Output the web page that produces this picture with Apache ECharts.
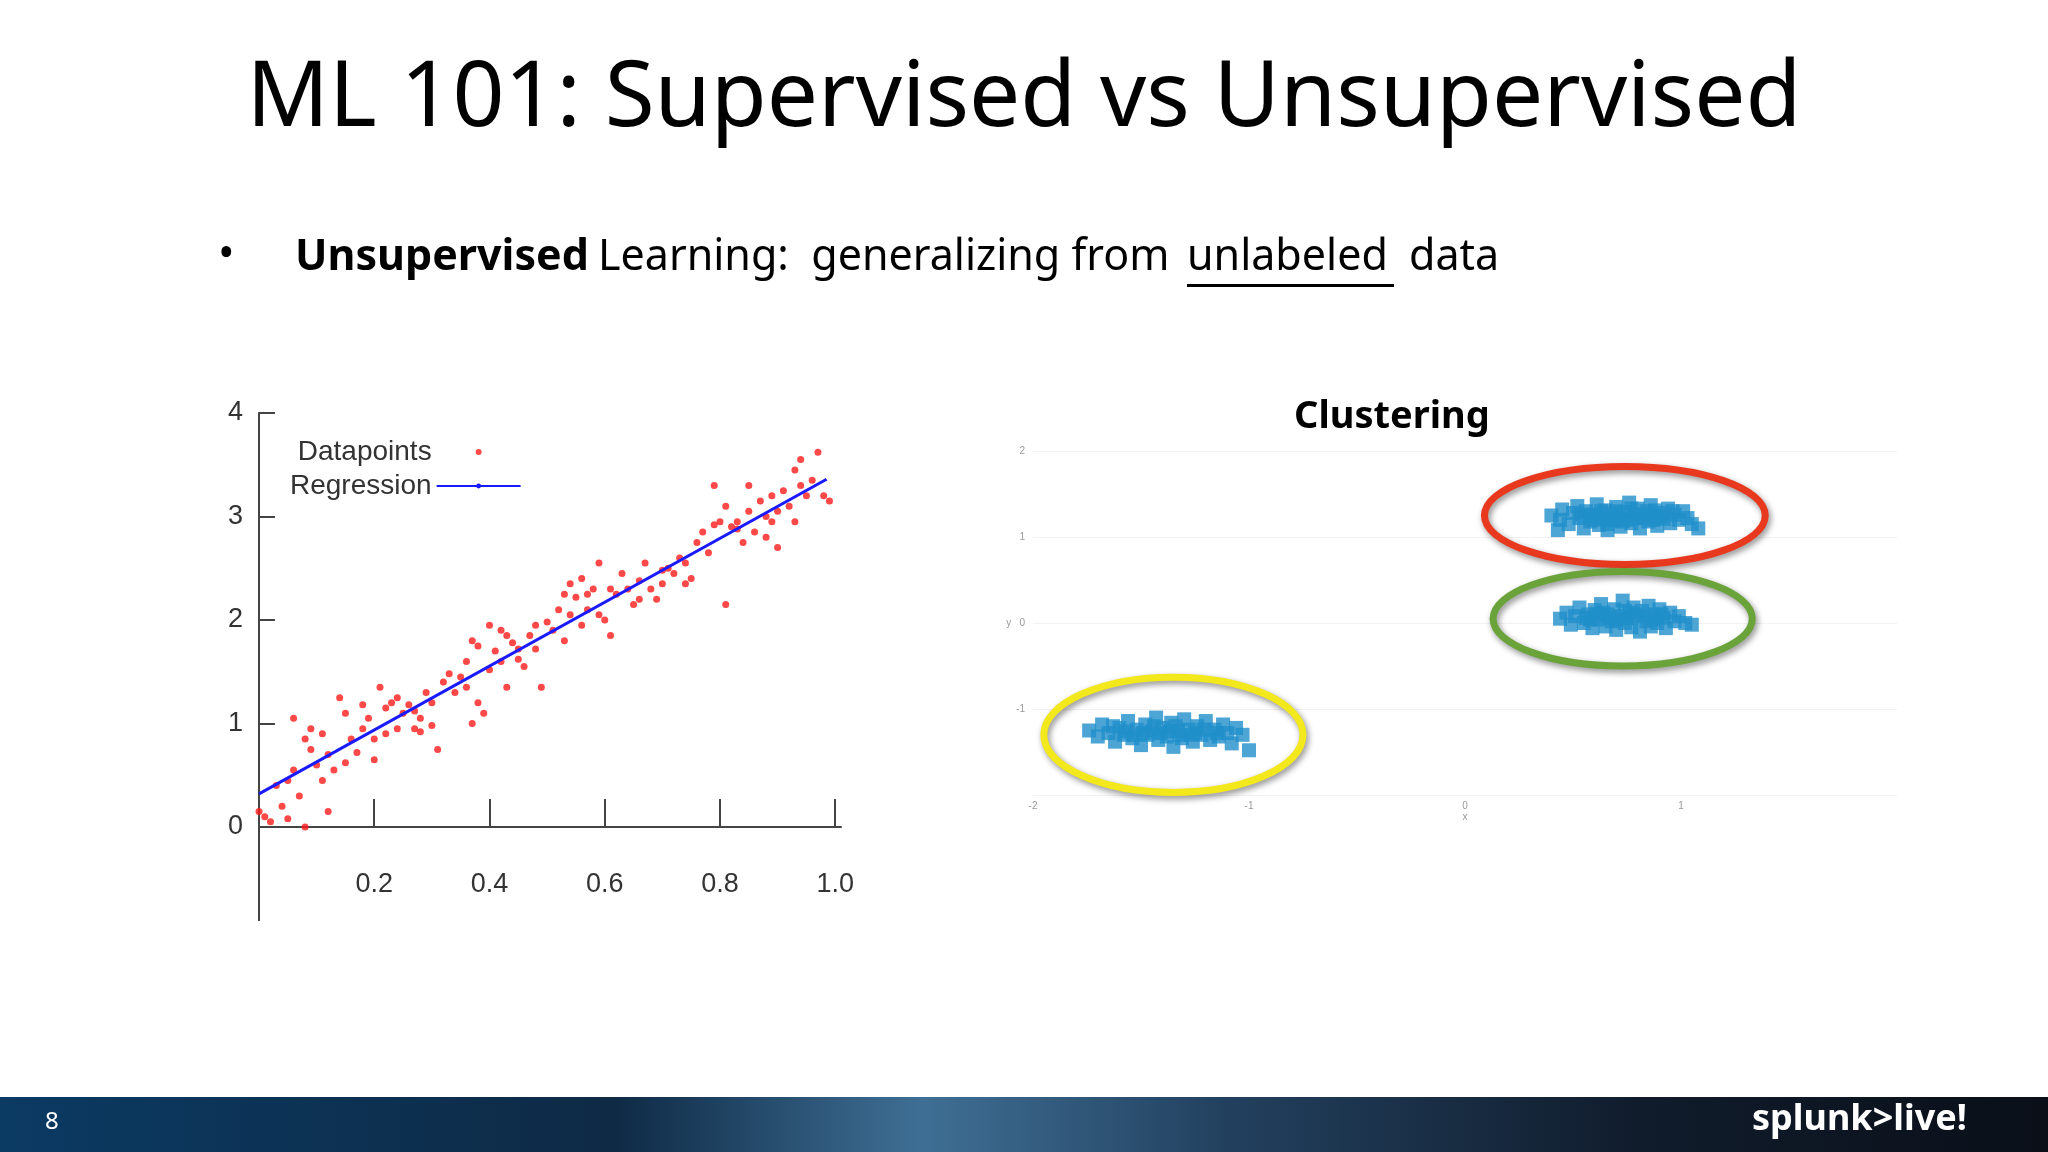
<!DOCTYPE html>
<html>
<head>
<meta charset="utf-8">
<script src="https://cdn.jsdelivr.net/npm/echarts@6/dist/echarts.min.js"></script>
<style>
html, body { margin: 0; padding: 0; background: #ffffff; }
#main { width: 2048px; height: 1152px; }
</style>
</head>
<body>
<div id="main"></div>
<script>
// regression panel
var regPoints = [
  [0.00,0.15],[0.01,0.10],[0.03,0.40],[0.04,0.20],[0.05,0.08],[0.06,0.55],[0.06,1.05],[0.07,0.30],[0.08,0.00],[0.09,0.75],
  [0.09,0.95],[0.10,0.60],[0.11,0.45],[0.12,0.15],[0.12,0.70],[0.13,0.55],[0.14,1.25],[0.15,1.10],[0.16,0.85],[0.17,0.72],
  [0.18,0.95],[0.19,1.05],[0.20,0.65],[0.20,0.85],[0.21,1.35],[0.22,0.90],[0.22,1.15],[0.23,1.20],[0.24,0.95],[0.25,1.10],
  [0.26,1.18],[0.27,0.95],[0.28,0.92],[0.28,1.05],[0.29,1.30],[0.30,0.98],[0.30,1.20],[0.31,0.75],[0.32,1.40],[0.33,1.48],
  [0.34,1.30],[0.36,1.60],[0.36,1.35],[0.37,1.80],[0.38,1.20],[0.38,1.75],[0.39,1.10],[0.40,1.95],[0.40,1.52],[0.41,1.70],
  [0.42,1.60],[0.43,1.35],[0.43,1.85],[0.44,1.78],[0.45,1.62],[0.46,1.55],[0.47,1.85],[0.48,1.72],[0.48,1.95],[0.49,1.35],
  [0.50,1.98],[0.51,1.90],[0.52,2.10],[0.53,1.80],[0.54,2.05],[0.54,2.35],[0.55,2.22],[0.56,2.40],[0.56,1.95],[0.57,2.25],
  [0.58,2.30],[0.59,2.55],[0.59,2.05],[0.60,2.00],[0.61,1.85],[0.62,2.25],[0.63,2.45],[0.64,2.30],[0.65,2.15],[0.66,2.38],
  [0.67,2.55],[0.68,2.30],[0.69,2.20],[0.70,2.35],[0.71,2.50],[0.72,2.45],[0.73,2.60],[0.74,2.55],[0.75,2.40],[0.76,2.75],
  [0.77,2.85],[0.78,2.65],[0.79,2.92],[0.80,2.95],[0.81,2.15],[0.81,3.10],[0.82,2.90],[0.83,2.88],[0.84,2.75],[0.85,3.05],
  [0.86,2.85],[0.87,3.15],[0.88,3.00],[0.88,2.80],[0.89,3.20],[0.90,2.70],[0.90,3.05],[0.91,3.25],[0.92,3.10],[0.93,2.95],
  [0.94,3.30],[0.94,3.55],[0.95,3.20],[0.96,3.35],[0.97,3.62],[0.98,3.20],[0.99,3.15],[0.93,3.45],[0.85,3.30],[0.79,3.30],
  [0.02,0.05],[0.05,0.45],[0.08,0.85],[0.11,0.90],[0.15,0.62],[0.18,1.18],[0.24,1.25],[0.27,1.12],[0.35,1.45],[0.37,1.00],
  [0.42,1.90],[0.45,1.72],[0.53,2.25],[0.57,2.10],[0.61,2.30],[0.66,2.20],[0.70,2.48],[0.74,2.35],[0.83,2.95],[0.89,2.95]
];
var regLine = [[0.00,0.32],[0.985,3.36]];
var yTicks = [0,1,2,3,4];
var xTicks = [0.2,0.4,0.6,0.8,1.0];

// clustering panel
var clusterRed = [
  [0.40,1.25],[0.44,1.20],[0.45,1.32],[0.48,1.15],[0.50,1.28],[0.52,1.36],[0.53,1.22],[0.55,1.10],[0.56,1.30],[0.58,1.18],
  [0.60,1.26],[0.61,1.38],[0.62,1.14],[0.64,1.22],[0.65,1.31],[0.66,1.08],[0.68,1.27],[0.69,1.19],[0.70,1.35],[0.71,1.24],
  [0.72,1.12],[0.74,1.29],[0.75,1.20],[0.76,1.40],[0.77,1.16],[0.78,1.26],[0.80,1.33],[0.81,1.10],[0.82,1.22],[0.84,1.30],
  [0.85,1.18],[0.86,1.37],[0.88,1.25],[0.89,1.13],[0.91,1.28],[0.92,1.21],[0.94,1.33],[0.95,1.16],[0.97,1.26],[0.99,1.20],
  [1.01,1.30],[1.03,1.22],[1.05,1.15],[1.08,1.10],[0.43,1.08],[0.58,1.24],[0.63,1.30],[0.67,1.20],[0.73,1.18],[0.79,1.22],
  [0.83,1.26],[0.87,1.20],[0.90,1.24],[0.70,1.30],[0.60,1.20],[0.96,1.30],[0.54,1.26],[0.77,1.33],[0.66,1.15],[0.88,1.31]
];
var clusterGreen = [
  [0.44,0.05],[0.47,0.12],[0.49,-0.02],[0.51,0.08],[0.53,0.18],[0.55,0.00],[0.57,0.10],[0.59,-0.06],[0.60,0.15],[0.62,0.04],
  [0.63,0.22],[0.65,-0.04],[0.66,0.10],[0.68,0.02],[0.69,0.16],[0.70,-0.08],[0.72,0.08],[0.73,0.26],[0.74,0.00],[0.76,0.12],
  [0.77,-0.05],[0.78,0.18],[0.80,0.06],[0.81,-0.10],[0.82,0.14],[0.84,0.02],[0.85,0.20],[0.86,-0.04],[0.88,0.10],[0.89,0.00],
  [0.90,0.16],[0.92,0.06],[0.93,-0.06],[0.95,0.12],[0.97,0.02],[0.99,0.08],[1.02,0.00],[1.05,-0.02],[0.58,0.04],[0.64,0.12],
  [0.71,0.04],[0.75,0.06],[0.79,0.10],[0.83,0.08],[0.87,0.04],[0.67,0.06],[0.61,0.10],[0.91,0.10],[0.56,0.06],[0.74,0.14]
];
var clusterYellow = [
  [-1.74,-1.25],[-1.70,-1.32],[-1.68,-1.18],[-1.65,-1.28],[-1.62,-1.38],[-1.60,-1.22],[-1.58,-1.30],[-1.56,-1.14],[-1.54,-1.34],[-1.52,-1.24],
  [-1.50,-1.42],[-1.48,-1.18],[-1.47,-1.30],[-1.45,-1.26],[-1.43,-1.10],[-1.42,-1.36],[-1.40,-1.22],[-1.38,-1.32],[-1.36,-1.16],[-1.35,-1.44],
  [-1.33,-1.26],[-1.31,-1.34],[-1.30,-1.12],[-1.28,-1.24],[-1.26,-1.38],[-1.24,-1.20],[-1.22,-1.30],[-1.20,-1.14],[-1.18,-1.36],[-1.16,-1.24],
  [-1.14,-1.32],[-1.12,-1.18],[-1.10,-1.28],[-1.08,-1.40],[-1.06,-1.22],[-1.03,-1.30],[-1.00,-1.48],[-1.57,-1.26],[-1.49,-1.28],[-1.41,-1.28],
  [-1.34,-1.20],[-1.27,-1.30],[-1.21,-1.24],[-1.15,-1.28],[-1.63,-1.20],[-1.44,-1.20],[-1.37,-1.26],[-1.25,-1.28],[-1.53,-1.30],[-1.32,-1.30]
];
// ellipses: [cx, cy, rx, ry, colour]
var ellipses = [
  [0.74, 1.25, 0.65, 0.57, '#e8391f'],
  [0.73, 0.05, 0.60, 0.55, '#6aa33a'],
  [-1.35, -1.30, 0.60, 0.67, '#f2e81c']
];
var clusterXTicks = [-2,-1,0,1];
var clusterYTicks = [-1,0,1,2];

var chart = echarts.init(document.getElementById('main'));
var font = '"Noto Sans", "Open Sans", sans-serif';
var tickFont = '"Liberation Sans", Arial, sans-serif';

chart.setOption({
  animation: false,
  backgroundColor: '#ffffff',
  grid: [
    {left: 259, top: 413, width: 582, height: 414},
    {left: 1033, top: 451, width: 864, height: 344}
  ],
  legend: {
    left: 285, top: 433, orient: 'vertical', align: 'right', itemGap: 6,
    itemWidth: 84, itemHeight: 6,
    textStyle: {fontFamily: tickFont, fontSize: 28, color: '#333'},
    data: [
      {name: 'Datapoints', icon: 'circle'},
      {name: 'Regression'}
    ]
  },
  xAxis: [
    {
      gridIndex: 0, type: 'value', min: 0, max: 1.01,
      splitLine: {show: false},
      axisLine: {lineStyle: {color: '#444', width: 2}},
      axisTick: {inside: true, length: 28, customValues: xTicks, lineStyle: {color: '#444', width: 2}},
      axisLabel: {customValues: xTicks, margin: 44, fontFamily: tickFont, fontSize: 27, color: '#333',
        formatter: function (v) { return v.toFixed(1); }}
    },
    {
      gridIndex: 1, type: 'value', min: -2, max: 2, name: 'x', nameLocation: 'middle', nameGap: 16,
      nameTextStyle: {fontSize: 10, color: '#999'},
      splitLine: {show: false}, axisLine: {show: false}, axisTick: {show: false},
      axisLabel: {customValues: clusterXTicks, fontSize: 10, color: '#999', margin: 6}
    }
  ],
  yAxis: [
    {
      gridIndex: 0, type: 'value', min: 0, max: 4,
      splitLine: {show: false},
      axisLine: {lineStyle: {color: '#444', width: 2}},
      axisTick: {inside: true, length: 16, customValues: yTicks, lineStyle: {color: '#444', width: 2}},
      axisLabel: {customValues: yTicks, margin: 16, fontFamily: tickFont, fontSize: 27, color: '#333'}
    },
    {
      gridIndex: 1, type: 'value', min: -2, max: 2, interval: 1,
      name: 'y', nameLocation: 'middle', nameRotate: 0, nameGap: 20,
      nameTextStyle: {fontSize: 10, color: '#999'},
      splitLine: {lineStyle: {color: '#f2f2f2'}}, axisLine: {show: false}, axisTick: {show: false},
      axisLabel: {customValues: clusterYTicks, fontSize: 10, color: '#999'}
    }
  ],
  series: [
    {
      name: 'Datapoints', type: 'scatter', xAxisIndex: 0, yAxisIndex: 0,
      symbolSize: 7, itemStyle: {color: '#ff1a1a'}, data: regPoints
    },
    {
      name: 'Regression', type: 'line', xAxisIndex: 0, yAxisIndex: 0, symbol: 'none',
      lineStyle: {color: '#1a1aff', width: 3}, itemStyle: {color: '#1a1aff'}, data: regLine
    },
    {
      type: 'scatter', xAxisIndex: 1, yAxisIndex: 1, symbol: 'rect', symbolSize: 14,
      itemStyle: {color: '#1f8ec9'}, data: clusterRed.concat(clusterGreen, clusterYellow)
    },
    {
      type: 'custom', xAxisIndex: 1, yAxisIndex: 1, data: ellipses,
      renderItem: function (params, api) {
        var c = api.coord([api.value(0), api.value(1)]);
        var s = api.size([api.value(2), api.value(3)]);
        return {
          type: 'ellipse',
          shape: {cx: c[0], cy: c[1], rx: s[0], ry: s[1]},
          style: {fill: null, stroke: ellipses[params.dataIndex][4], lineWidth: 7,
            shadowBlur: 6, shadowColor: 'rgba(0,0,0,0.45)', shadowOffsetX: 2, shadowOffsetY: 3}
        };
      }
    }
  ],
  graphic: [
    // y axis continues below zero in the original
    {type: 'line', shape: {x1: 259, y1: 827, x2: 259, y2: 921}, style: {stroke: '#444', lineWidth: 2}},
    {type: 'text', left: 'center', top: 55, style: {text: 'ML 101: Supervised vs Unsupervised', font: '91px ' + font, fill: '#000'}},
    {type: 'text', left: 218, top: 233, style: {text: '•', font: '44px ' + font, fill: '#000'}},
    {type: 'text', left: 295, top: 236, style: {text: 'Unsupervised', font: 'bold 43px ' + font, fill: '#000'}},
    {type: 'text', left: 598, top: 236, style: {text: 'Learning:  generalizing from', font: '43px ' + font, fill: '#000'}},
    {type: 'text', left: 1187, top: 236, style: {text: 'unlabeled', font: '43px ' + font, fill: '#000'}},
    {type: 'rect', left: 1187, top: 284, shape: {width: 207, height: 3}, style: {fill: '#000'}},
    {type: 'text', left: 1409, top: 236, style: {text: 'data', font: '43px ' + font, fill: '#000'}},
    {type: 'text', left: 1294, top: 398, style: {text: 'Clustering', font: 'bold 38px ' + font, fill: '#000'}},
    {type: 'rect', left: 0, top: 1097, shape: {width: 2048, height: 55},
      style: {fill: new echarts.graphic.LinearGradient(0, 0, 1, 0, [
        {offset: 0, color: '#0b3a63'}, {offset: 0.3, color: '#0e2a45'}, {offset: 0.45, color: '#3f6f95'},
        {offset: 0.6, color: '#22405e'}, {offset: 0.8, color: '#101c2c'}, {offset: 1, color: '#0a0f18'}])}},
    {type: 'text', left: 45, top: 1110, style: {text: '8', font: '24px ' + font, fill: '#fff'}},
    {type: 'text', left: 1752, top: 1102, style: {text: 'splunk>live!', font: 'bold 36px ' + font, fill: '#fff'}}
  ]
});
</script>
</body>
</html>
